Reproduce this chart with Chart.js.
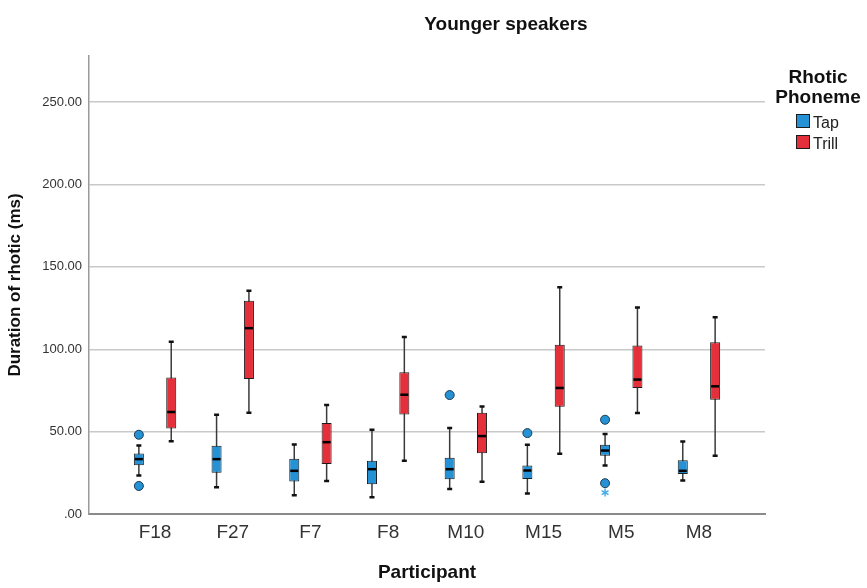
<!DOCTYPE html>
<html>
<head>
<meta charset="utf-8">
<script src="https://cdn.jsdelivr.net/npm/chart.js@4.4.1/dist/chart.umd.min.js"></script>
<style>
  html, body { margin: 0; padding: 0; background: #fff; }
  #wrap { width: 867px; height: 588px; }
</style>
</head>
<body>
<div id="wrap"><canvas id="boxChart" width="867" height="588"></canvas></div>
<script>
const participants = ['F18', 'F27', 'F7', 'F8', 'M10', 'M15', 'M5', 'M8'];
const yTicks = [0, 50, 100, 150, 200, 250];

// Tap (five-number summary per participant)
const tapMin = [23.3, 16.2, 11.4, 10.2, 15.2, 12.4, 29.4, 20.3];
const tapQ1 = [29.6, 25.1, 19.7, 18.1, 21.1, 21.3, 35.3, 24.3];
const tapMedian = [33.3, 33.3, 26.2, 27.2, 27.2, 26.4, 38.5, 26.2];
const tapQ3 = [36.7, 41.4, 33.5, 32.3, 34.1, 29.4, 42.0, 32.7];
const tapMax = [41.6, 60.3, 42.2, 51.1, 52.2, 42.0, 48.5, 44.0];
const tapOutliers = [[48.1, 17.0], [], [], [], [72.2], [49.1], [57.2, 18.7], []];
const tapExtremes = [[], [], [], [], [], [], [13.0], []];

// Trill
const trillMin = [44.2, 61.5, 20.1, 32.3, 19.5, 36.5, 61.3, 35.3];
const trillQ1 = [51.9, 82.0, 30.4, 60.4, 36.9, 65.1, 76.5, 69.4];
const trillMedian = [61.9, 112.8, 43.6, 72.4, 47.3, 76.5, 81.6, 77.5];
const trillQ3 = [82.8, 129.4, 55.2, 86.0, 61.5, 102.7, 102.3, 104.3];
const trillMax = [104.5, 135.5, 66.2, 107.5, 65.3, 137.6, 125.4, 119.5];
const trillOutliers = [[], [], [], [], [], [], [], []];
const trillExtremes = [[], [], [], [], [], [], [], []];

const FONT = "'Liberation Sans', Arial, sans-serif";
Chart.defaults.font.family = FONT;

function boxes(q1, q3) {
  return q1.map((v, i) => ({ x: i + 1, y: [v, q3[i]] }));
}

// whiskers behind the boxes, medians and outliers on top
const boxPlotPlugin = {
  id: 'boxPlot',
  beforeDatasetsDraw(chart) {
    const ctx = chart.ctx;
    const y = chart.scales.y;
    chart.data.datasets.forEach((ds, d) => {
      chart.getDatasetMeta(d).data.forEach((bar, i) => {
        const x = bar.x;
        const top = y.getPixelForValue(ds.stats.max[i]);
        const bottom = y.getPixelForValue(ds.stats.min[i]);
        ctx.save();
        ctx.strokeStyle = '#3a3a3a';
        ctx.lineWidth = 1.5;
        ctx.beginPath();
        ctx.moveTo(x, top);
        ctx.lineTo(x, bottom);
        ctx.stroke();
        ctx.strokeStyle = '#111';
        ctx.lineWidth = 2.5;
        ctx.beginPath();
        ctx.moveTo(x - 2.5, top); ctx.lineTo(x + 2.5, top);
        ctx.moveTo(x - 2.5, bottom); ctx.lineTo(x + 2.5, bottom);
        ctx.stroke();
        ctx.restore();
      });
    });
  },
  afterDatasetsDraw(chart) {
    const ctx = chart.ctx;
    const y = chart.scales.y;
    chart.data.datasets.forEach((ds, d) => {
      chart.getDatasetMeta(d).data.forEach((bar, i) => {
        const x = bar.x;
        const w = bar.width;
        const my = y.getPixelForValue(ds.stats.median[i]);
        ctx.save();
        ctx.strokeStyle = '#000';
        ctx.lineWidth = 2.5;
        ctx.beginPath();
        ctx.moveTo(x - w / 2 + 1, my);
        ctx.lineTo(x + w / 2 - 1, my);
        ctx.stroke();

        ds.stats.outliers[i].forEach(v => {
          ctx.beginPath();
          ctx.arc(x, y.getPixelForValue(v), 4.5, 0, Math.PI * 2);
          ctx.fillStyle = ds.backgroundColor;
          ctx.fill();
          ctx.strokeStyle = '#1d3b52';
          ctx.lineWidth = 1;
          ctx.stroke();
        });

        ds.stats.extremes[i].forEach(v => {
          const py = y.getPixelForValue(v);
          ctx.strokeStyle = '#45aee8';
          ctx.lineWidth = 1.5;
          ctx.beginPath();
          for (let k = 0; k < 3; k++) {
            const a = Math.PI / 2 + k * Math.PI / 3;
            ctx.moveTo(x - Math.cos(a) * 4, py - Math.sin(a) * 4);
            ctx.lineTo(x + Math.cos(a) * 4, py + Math.sin(a) * 4);
          }
          ctx.stroke();
        });
        ctx.restore();
      });
    });
  }
};

// chart title and the legend block on the right
const titleLegendPlugin = {
  id: 'titleLegend',
  afterDraw(chart) {
    const ctx = chart.ctx;
    ctx.save();
    ctx.fillStyle = '#111';
    ctx.textAlign = 'center';
    ctx.textBaseline = 'alphabetic';
    ctx.font = 'bold 19px ' + FONT;
    ctx.fillText('Younger speakers', 506, 30);

    ctx.font = 'bold 19px ' + FONT;
    ctx.fillText('Rhotic', 818, 83);
    ctx.fillText('Phoneme', 818, 103);

    ctx.textAlign = 'left';
    ctx.font = '16px ' + FONT;
    chart.data.datasets.forEach((ds, d) => {
      const top = 114 + d * 21;
      ctx.fillStyle = ds.backgroundColor;
      ctx.fillRect(796, top, 14, 14);
      ctx.strokeStyle = '#1c1c1c';
      ctx.lineWidth = 1;
      ctx.strokeRect(796.5, top + 0.5, 13, 13);
      ctx.fillStyle = '#222';
      ctx.fillText(ds.label, 813, top + 14);
    });
    ctx.restore();
  }
};

const ctx = document.getElementById('boxChart').getContext('2d');
const chart = new Chart(ctx, {
  type: 'bar',
  data: {
    datasets: [{
      label: 'Tap',
      data: boxes(tapQ1, tapQ3),
      stats: { min: tapMin, median: tapMedian, max: tapMax, outliers: tapOutliers, extremes: tapExtremes },
      backgroundColor: '#2592d6',
      borderColor: '#1c1c1c',
      borderWidth: 1,
      borderSkipped: false,
      categoryPercentage: 0.833,
      barPercentage: 0.31
    }, {
      label: 'Trill',
      data: boxes(trillQ1, trillQ3),
      stats: { min: trillMin, median: trillMedian, max: trillMax, outliers: trillOutliers, extremes: trillExtremes },
      backgroundColor: '#e3303a',
      borderColor: '#1c1c1c',
      borderWidth: 1,
      borderSkipped: false,
      categoryPercentage: 0.833,
      barPercentage: 0.31
    }]
  },
  options: {
    responsive: false,
    animation: false,
    layout: {
      padding: { top: 56, right: 102, left: 0, bottom: 0 }
    },
    plugins: {
      legend: { display: false },
      title: { display: false },
      tooltip: { enabled: false }
    },
    scales: {
      x: {
        type: 'linear',
        offset: false,
        bounds: 'data',
        min: 0.15,
        max: 8.85,
        afterBuildTicks: scale => {
          scale.ticks = participants.map((p, i) => ({ value: i + 1 }));
        },
        afterFit: scale => { scale.height = 74; },
        grid: { display: false, drawTicks: false },
        border: { display: true, color: '#8a8a8a', width: 2 },
        ticks: {
          autoSkip: false,
          maxRotation: 0,
          padding: 7,
          color: '#333',
          font: { size: 19 },
          callback: v => participants[v - 1]
        },
        title: {
          display: true,
          text: 'Participant',
          color: '#111',
          font: { size: 19, weight: 'bold' },
          padding: { top: 0, bottom: 4 }
        }
      },
      y: {
        min: 0,
        max: 278,
        afterBuildTicks: scale => {
          scale.ticks = yTicks.map(v => ({ value: v }));
        },
        afterFit: scale => { scale.width = 89; },
        grid: { color: '#c9c9c9', lineWidth: 1.5, drawTicks: false },
        border: { display: true, color: '#9a9a9a', width: 1.5 },
        ticks: {
          padding: 7,
          color: '#333',
          font: { size: 13 },
          callback: v => v === 0 ? '.00' : v.toFixed(2)
        },
        title: {
          display: true,
          text: 'Duration of rhotic (ms)',
          color: '#111',
          font: { size: 17, weight: 'bold' },
          padding: { top: 5, bottom: 0 }
        }
      }
    }
  },
  plugins: [boxPlotPlugin, titleLegendPlugin]
});
</script>
</body>
</html>
